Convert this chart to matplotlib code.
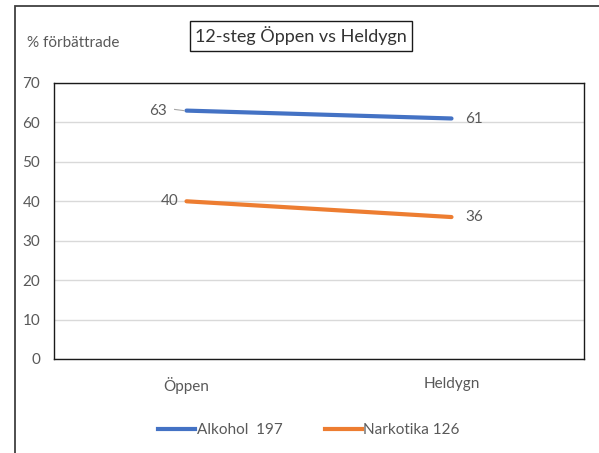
import numpy as np
from matplotlib import pyplot as plt
from matplotlib.lines import Line2D
from matplotlib.patches import Rectangle

plt.rcParams['font.family'] = ['Lato', 'DejaVu Sans']

categories = ['Öppen', 'Heldygn']
alkohol = [63, 61]
narkotika = [40, 36]
series_names = ['Alkohol  197', 'Narkotika 126']
yticks = [0, 10, 20, 30, 40, 50, 60, 70]

grey = '#595959'
blue = '#4472C4'
orange = '#ED7D31'
fs = 11

fig = plt.figure(figsize=(5.99, 4.53), dpi=100)
W, H = 599, 453
# chart outer border, only left and top edges fall inside the picture
fig.add_artist(Rectangle((15 / W, -0.1), 1.2, 1.1 - 6 / H,
                         transform=fig.transFigure, fill=False, ec='#404040', lw=1.3))

ax = fig.add_axes([54 / W, 1 - 359 / H, 530 / W, (359 - 83) / H])
x = np.arange(len(categories))
ax.plot(x, alkohol, color=blue, lw=3, solid_capstyle='round')
ax.plot(x, narkotika, color=orange, lw=3, solid_capstyle='round')

ax.set_xlim(-0.5, 1.5)
ax.set_ylim(0, 70)
ax.set_yticks(yticks)
ax.set_xticks(x)
ax.set_xticklabels(categories)
ax.tick_params(length=0, colors=grey, labelsize=fs)
ax.tick_params(axis='x', pad=13)
ax.tick_params(axis='y', pad=10)
ax.grid(axis='y', color='#D9D9D9', lw=1)
ax.set_axisbelow(True)
for s in ax.spines.values():
    s.set_color('#1a1a1a')
    s.set_linewidth(1)

# data labels
ax.annotate(str(alkohol[0]), (x[0], alkohol[0]), xytext=(-14, 0), textcoords='offset points',
            ha='right', va='center', color=grey, fontsize=fs)
ax.plot([x[0] - 0.045, x[0] - 0.01], [alkohol[0] + 0.3, alkohol[0]], color='#A6A6A6', lw=0.8)
ax.annotate(str(narkotika[0]), (x[0], narkotika[0]), xytext=(-6, 0), textcoords='offset points',
            ha='right', va='center', color=grey, fontsize=fs)
ax.annotate(str(alkohol[1]), (x[1], alkohol[1]), xytext=(10, -0.5), textcoords='offset points',
            ha='left', va='center', color=grey, fontsize=fs)
ax.annotate(str(narkotika[1]), (x[1], narkotika[1]), xytext=(10, 0), textcoords='offset points',
            ha='left', va='center', color=grey, fontsize=fs)

fig.text(27 / W, 1 - 43 / H, '% förbättrade', color=grey, fontsize=fs, va='center', ha='left')
fig.text(301 / W, 1 - 36 / H, '12-steg Öppen vs Heldygn', color='#333333', fontsize=13,
         ha='center', va='center',
         bbox=dict(boxstyle='square,pad=0.3', fc='white', ec='#1a1a1a', lw=1))

handles = [Line2D([], [], color=blue, lw=3), Line2D([], [], color=orange, lw=3)]
leg = fig.legend(handles, series_names, loc='center', bbox_to_anchor=(309 / W, 1 - 430 / H),
                 ncol=2, frameon=False, fontsize=fs, handlelength=2.4, handletextpad=0.1,
                 columnspacing=2.8)
for t in leg.get_texts():
    t.set_color(grey)

fig.savefig('out.png', dpi=100)
